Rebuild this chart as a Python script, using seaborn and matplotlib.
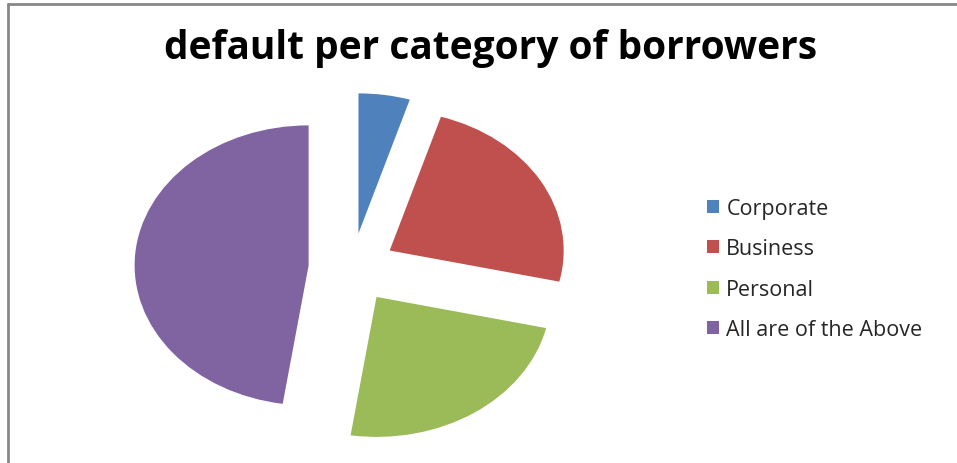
import matplotlib
matplotlib.use("Agg")
import matplotlib.pyplot as plt
import matplotlib.patches as mpatches
import seaborn as sns

sns.set_theme(style="white")
plt.rcParams["font.family"] = ["Open Sans", "DejaVu Sans"]

# data
categories = ["Corporate", "Business", "Personal", "All are of the Above"]
counts = [2, 10, 10, 20]
colors = ["#4F81BD", "#C0504D", "#9BBB59", "#8064A2"]
title = "default per category of borrowers"

W, H = 957, 464
fig = plt.figure(figsize=(W / 100, H / 100), dpi=100)
ax = fig.add_axes([0, 0, 1, 1])

wedges, _ = ax.pie(
    counts,
    colors=sns.color_palette(colors),
    startangle=90,
    counterclock=False,
    explode=[0.25] * len(counts),
    wedgeprops=dict(linewidth=0),
)
ax.set_aspect("auto")

# pie centre at (352, 269) px from top-left, radius 174 px wide, 140 px tall
cx, cy, rx, ry = 352, 269, 174, 140
ax.set_xlim(-cx / rx, (W - cx) / rx)
ax.set_ylim(-(H - cy) / ry, cy / ry)
ax.axis("off")

fig.text(491 / W, 1 - 49 / H, title, ha="center", va="center",
         fontsize=28, fontweight="bold", color="black")

handles = [mpatches.Patch(facecolor=c, edgecolor="none") for c in colors]
fig.legend(
    handles, categories,
    loc="center left", bbox_to_anchor=(707 / W, 1 - 270 / H),
    frameon=False, fontsize=15.5,
    handlelength=0.55, handleheight=0.55, handletextpad=0.35,
    labelspacing=0.9, borderpad=0, borderaxespad=0,
)

# chart area border (only top and left edges visible in the crop)
fig.add_artist(plt.Line2D([8 / W, 8 / W], [0, 1 - 5 / H], color="#888888", lw=2,
                          transform=fig.transFigure))
fig.add_artist(plt.Line2D([8 / W, 1], [1 - 5 / H, 1 - 5 / H], color="#888888", lw=2,
                          transform=fig.transFigure))

fig.savefig("out.png", dpi=100)
